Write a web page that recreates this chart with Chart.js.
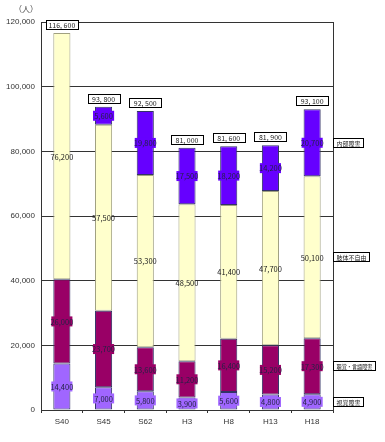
<!DOCTYPE html>
<html>
<head>
<meta charset="utf-8">
<script src="https://cdn.jsdelivr.net/npm/chart.js@4"></script>
<style>
  html, body { margin: 0; padding: 0; background: #fff; }
  #wrap { width: 385px; height: 442px; }
</style>
</head>
<body>
<div id="wrap"><canvas id="myChart"></canvas></div>
<script>
const years = ['S40', 'S45', 'S62', 'H3', 'H8', 'H13', 'H18'];
const seriesNames = ['視覚障害', '聴覚・言語障害', '肢体不自由', '内部障害'];
const visual = [14400, 7000, 5800, 3900, 5600, 4800, 4900];
const hearing = [26000, 23700, 13600, 11200, 16400, 15200, 17300];
const limb = [76200, 57500, 53300, 48500, 41400, 47700, 50100];
const internal = [0, 5600, 19800, 17500, 18200, 14200, 20700];
const totals = [116600, 93800, 92500, 81000, 81600, 81900, 93100];
const yTicks = [0, 20000, 40000, 60000, 80000, 100000, 120000];

const fillColors = ['#A066FF', '#990066', '#FFFFCC', '#6600FF'];
const edgeColors = ['#333366', '#333366', '#A0A080', '#333366'];
const labelText = ['#222244', '#222244', '#222222', '#222244'];
const jpFont = '"Noto Sans CJK JP", sans-serif';

const ctx = document.getElementById('myChart').getContext('2d');

function fmt(v) {
    return v.toLocaleString('en-US');
}

// segment labels, totals, right-side names, unit
const labelPlugin = {
    id: 'labels',
    afterDatasetsDraw(chart) {
        const c = chart.ctx;
        const area = chart.chartArea;
        c.save();
        // plot border
        c.strokeStyle = '#333';
        c.lineWidth = 1;
        c.strokeRect(Math.round(area.left) + 0.5, Math.round(area.top) + 0.5,
            Math.round(area.right - area.left), Math.round(area.bottom - area.top));

        c.font = '7.5px ' + jpFont;
        c.textAlign = 'center';
        c.textBaseline = 'middle';
        chart.data.datasets.forEach((ds, i) => {
            const meta = chart.getDatasetMeta(i);
            meta.data.forEach((bar, j) => {
                const v = ds.data[j];
                if (!v) return;
                const mid = (bar.y + bar.base) / 2;
                const w = bar.width + 4;
                if (i !== 2) {
                    c.fillStyle = fillColors[i];
                    c.fillRect(bar.x - w / 2, mid - 5, w, 10);
                }
                c.fillStyle = labelText[i];
                c.fillText(fmt(v), bar.x, mid + 0.5);
            });
        });

        // totals
        c.font = '7px ' + jpFont;
        const topMeta = chart.getDatasetMeta(3);
        const y = chart.scales.y;
        topMeta.data.forEach((bar, j) => {
            const top = y.getPixelForValue(totals[j]);
            const bx = Math.round(bar.x - 16) + 0.5;
            const by = Math.round(top - 13) + 0.5;
            c.fillStyle = '#fff';
            c.fillRect(bx, by, 32, 9);
            c.strokeStyle = '#000';
            c.strokeRect(bx, by, 32, 9);
            c.fillStyle = '#222';
            c.fillText(fmt(totals[j]).replace(',', ', '), bar.x, by + 5);
        });

        // series names next to last bar
        const last = years.length - 1;
        c.font = '6px ' + jpFont;
        c.textAlign = 'left';
        seriesNames.forEach((name, i) => {
            const bar = chart.getDatasetMeta(i).data[last];
            const mid = Math.round((bar.y + bar.base) / 2);
            const tw = Math.min(c.measureText(name).width, 36);
            const bx = Math.round(area.right) + 0.5;
            c.fillStyle = '#fff';
            c.fillRect(bx, mid - 4.5, tw + 6, 9);
            c.strokeStyle = '#000';
            c.strokeRect(bx, mid - 4.5, tw + 6, 9);
            c.fillStyle = '#222';
            c.fillText(name, bx + 3, mid + 0.5, tw);
        });

        // unit
        c.font = '8px ' + jpFont;
        c.textAlign = 'left';
        c.fillStyle = '#444';
        c.fillText('（人）', 14, 9);
        c.restore();
    }
};

const myChart = new Chart(ctx, {
    type: 'bar',
    data: {
        labels: years,
        datasets: seriesNames.map((name, i) => ({
            label: name,
            data: [visual, hearing, limb, internal][i],
            backgroundColor: fillColors[i],
            borderColor: edgeColors[i],
            borderWidth: 1,
            borderSkipped: false,
            barPercentage: 0.41,
            categoryPercentage: 1
        }))
    },
    options: {
        responsive: true,
        maintainAspectRatio: false,
        animation: false,
        layout: { padding: { top: 22, right: 52, bottom: 10, left: 0 } },
        plugins: {
            legend: { display: false },
            tooltip: { enabled: false }
        },
        scales: {
            x: {
                stacked: true,
                grid: { display: true, drawOnChartArea: false, offset: true, tickLength: 3, color: '#333' },
                border: { color: '#333' },
                ticks: { color: '#333', font: { size: 8, family: 'Arial, sans-serif' }, padding: 4 },
                afterFit: s => { s.height = 22; }
            },
            y: {
                stacked: true,
                min: 0,
                max: 120000,
                afterBuildTicks: s => { s.ticks = yTicks.map(v => ({ value: v })); },
                grid: { color: '#333', drawTicks: false },
                border: { color: '#333' },
                ticks: {
                    color: '#333',
                    padding: 6,
                    font: { size: 8, family: 'Arial, sans-serif' },
                    callback: v => fmt(v)
                },
                afterFit: s => { s.width = 41; }
            }
        }
    },
    plugins: [labelPlugin]
});
</script>
</body>
</html>
